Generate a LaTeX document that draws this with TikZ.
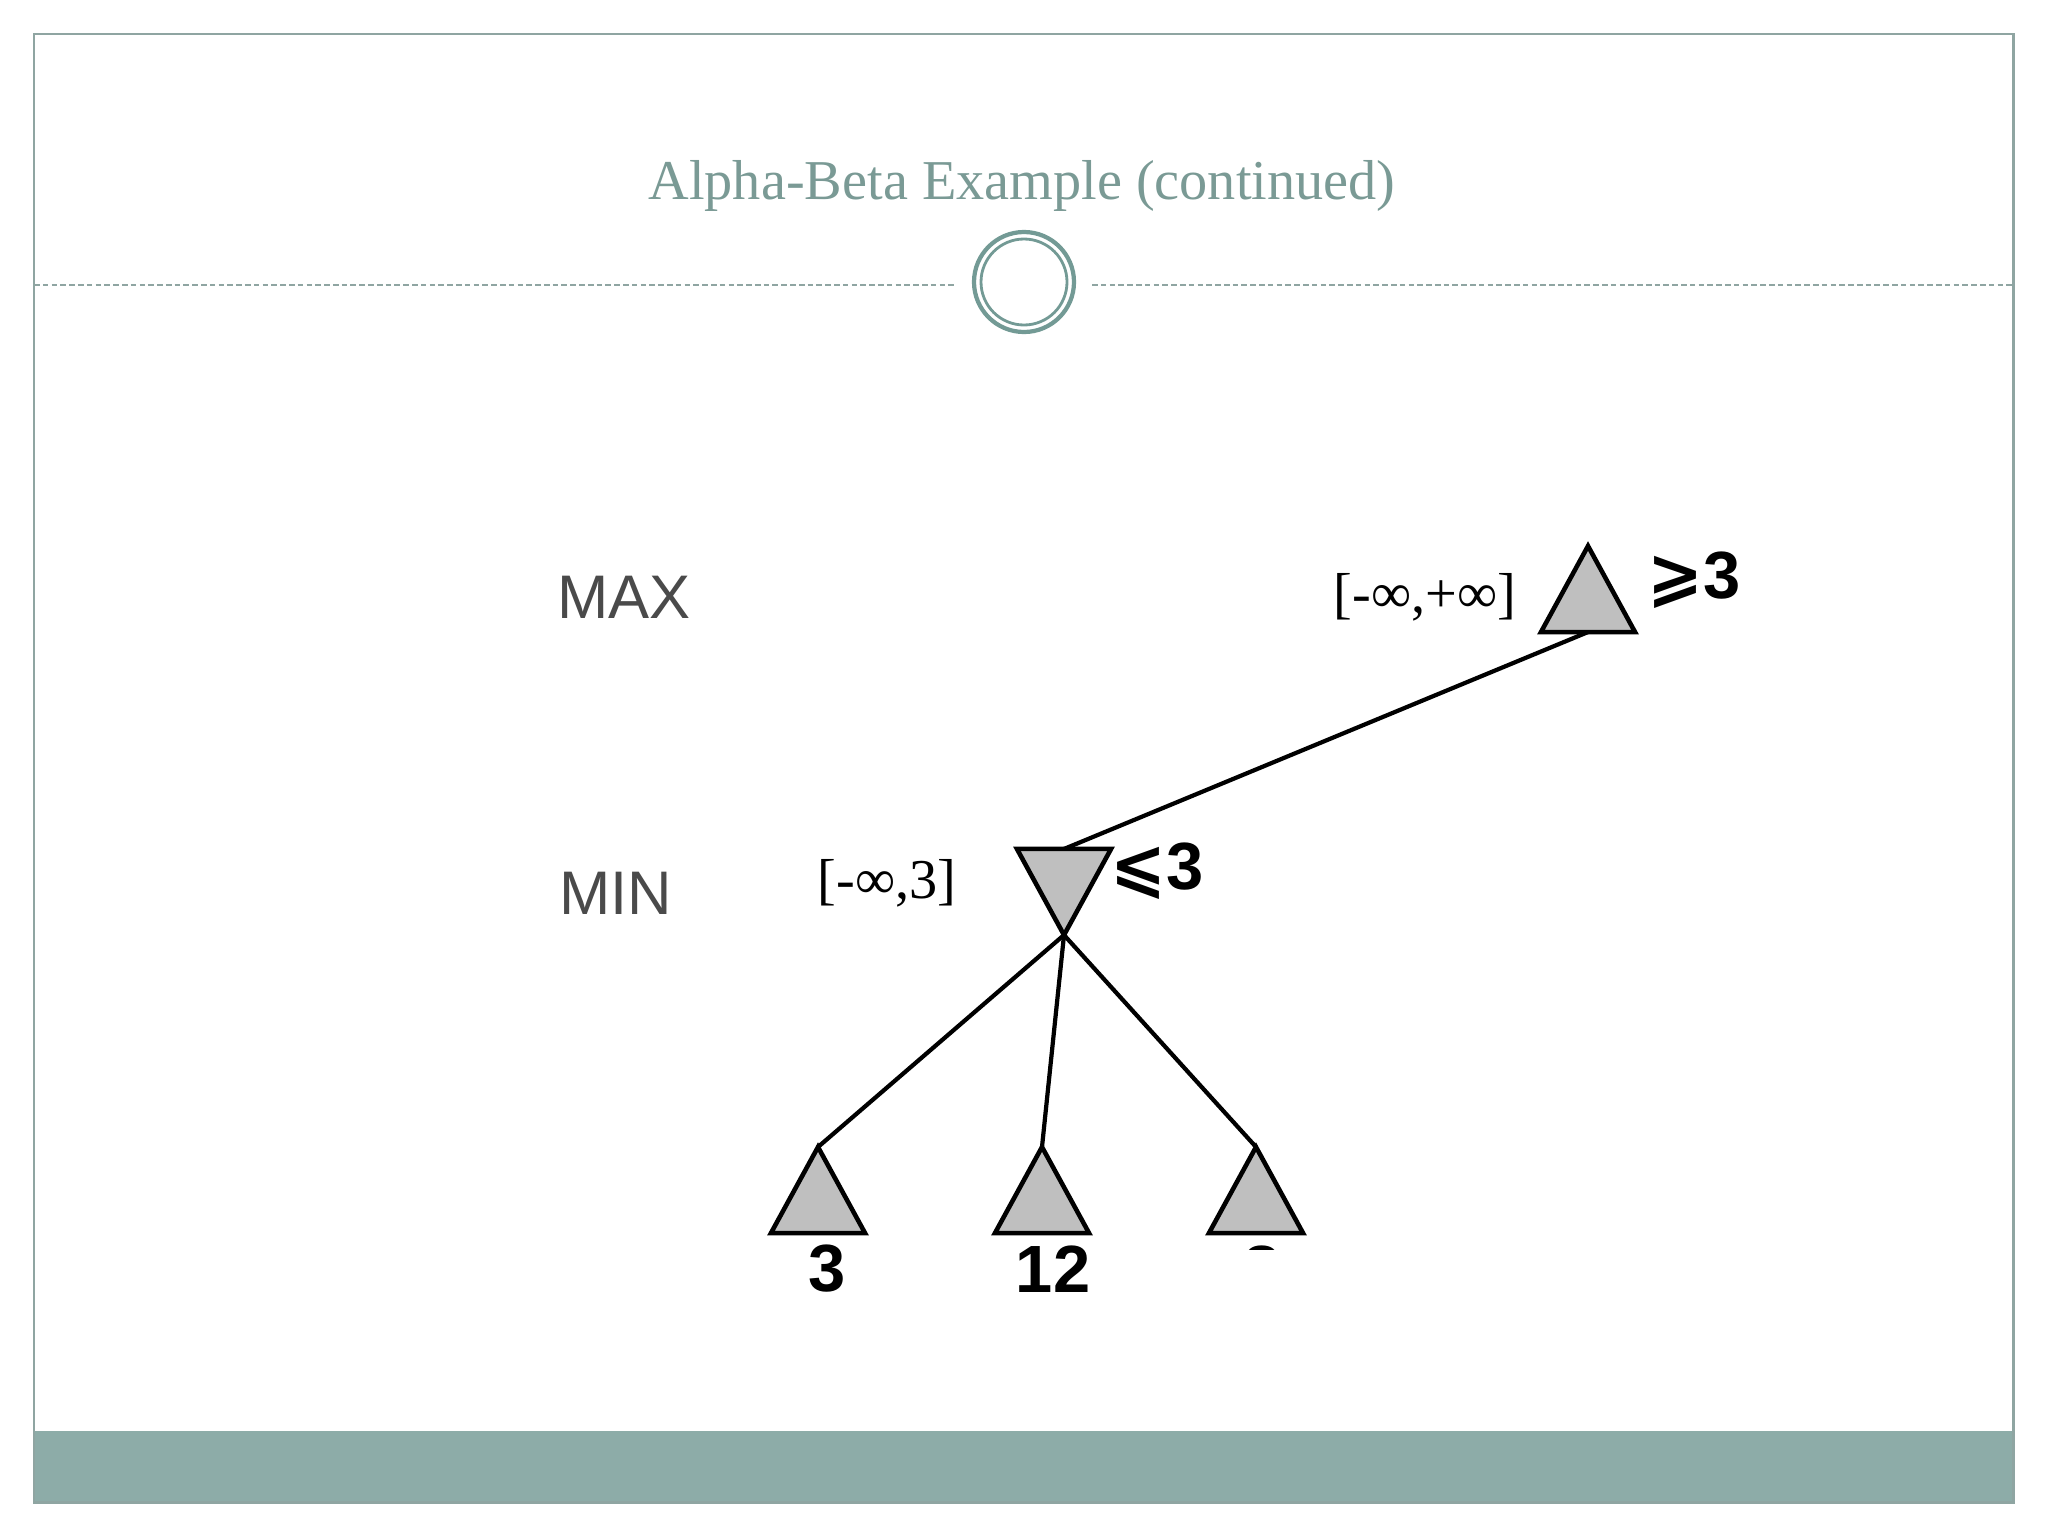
\documentclass[tikz,border=0pt]{standalone}
\usepackage{fontspec}
\setmainfont{Liberation Serif}
\setsansfont{Liberation Sans}
\newfontfamily\symfont{DejaVu Sans}
\definecolor{slate}{HTML}{7A9A95}
\definecolor{framegray}{HTML}{8FA5A2}
\definecolor{bandteal}{HTML}{8DACA8}
\definecolor{ringteal}{HTML}{739A95}
\definecolor{trigray}{HTML}{BFBFBF}
\definecolor{labelgray}{HTML}{4A4A4A}
\usetikzlibrary{shapes.geometric}

\begin{document}
\begin{tikzpicture}[
  x=0.01cm, y=-0.01cm,
  tri/.style={isosceles triangle, isosceles triangle stretches, draw=black, fill=trigray, line width=1.3pt, minimum width=0.94cm, minimum height=0.86cm, inner sep=0pt, outer sep=0pt},
  maxtri/.style={tri, rotate=90, anchor=apex},
  mintri/.style={tri, rotate=-90, anchor=apex},
  level/.style={font=\sffamily\fontsize{17.5}{20}\selectfont, text=labelgray},
  bound/.style={font=\fontsize{16}{19}\selectfont},
  val/.style={font=\sffamily\bfseries\fontsize{19}{22}\selectfont},
  branch/.style={line width=1.2pt},
]
\useasboundingbox (0,0) rectangle (2048,1536);
% slide frame
\fill[bandteal] (34,1431) rectangle (2013,1502);
\draw[framegray, line width=0.85pt] (34,34) rectangle (2013,1502);
\node[font=\fontsize{16}{20}\selectfont, text=slate] (title) at (1022,186) {Alpha-Beta Example (continued)};
\draw[framegray, line width=0.5pt, dash pattern=on 1.6pt off 0.9pt] (34,285) -- (957,285);
\draw[framegray, line width=0.5pt, dash pattern=on 1.6pt off 0.9pt] (1092,285) -- (2013,285);
\draw[ringteal, line width=1.2pt] (1024,282) circle (50);
\draw[ringteal, line width=0.8pt] (1024,282) circle (43);

% levels
\node[level] (maxlbl) at (624,597) {MAX};
\node[level] (minlbl) at (616,893) {MIN};

% tree
\node[maxtri] (root) at (1588,546) {};
\node[mintri] (mid) at (1064,935) {};
\node[maxtri] (leafa) at (818,1147) {};
\node[maxtri] (leafb) at (1042,1147) {};
\node[maxtri] (leafc) at (1256,1147) {};
\draw[branch] (root.lower side) -- (mid.lower side);
\draw[branch] (mid.apex) -- (leafa.apex);
\draw[branch] (mid.apex) -- (leafb.apex);
\draw[branch] (mid.apex) -- (leafc.apex);

% bounds and values
\node[bound] (rootbd) at (1425,597) {[-∞,+∞]};
\node[bound] (midbd) at (887,883) {[-∞,3]};
\node[val] (rootval) at (1694,580) {{\symfont ⩾}3};
\node[val] (midval) at (1157,871) {{\symfont ⩽}3};
\node[val] (vala) at (827,1269) {3};
\node[val] (valb) at (1053,1269) {12};
\begin{scope}
\clip (1200,1236) rectangle (1320,1249);
\node[val] (valc) at (1262,1269) {8};
\end{scope}
\end{tikzpicture}
\end{document}
